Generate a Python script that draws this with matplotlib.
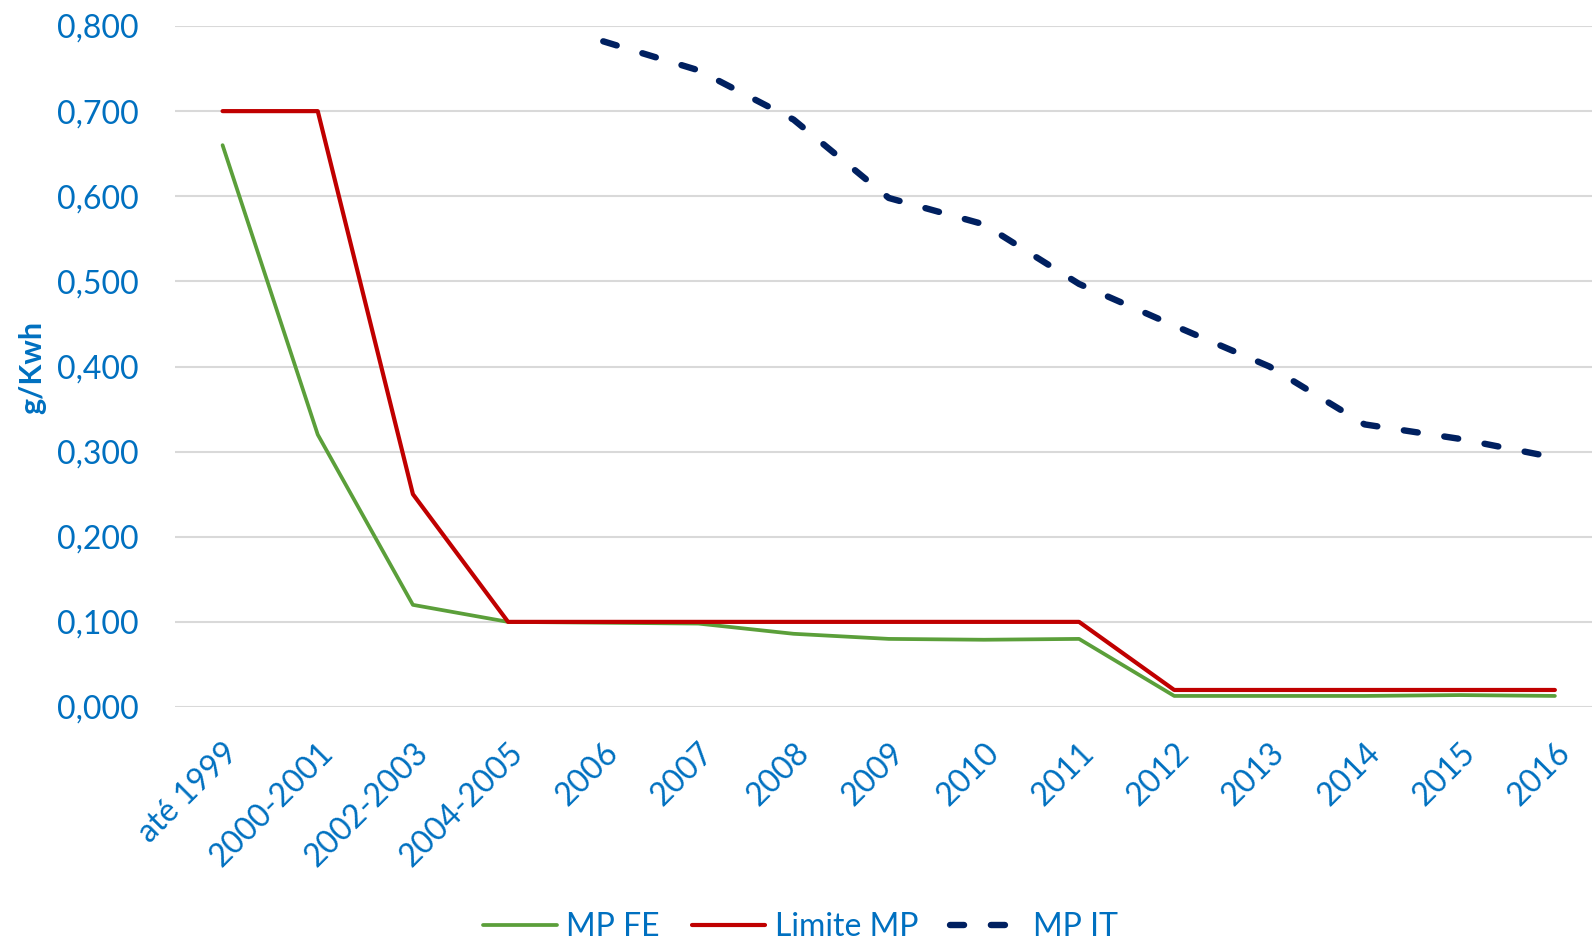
import numpy as np
import matplotlib
matplotlib.use("Agg")
import matplotlib.pyplot as plt

plt.rcParams['font.family'] = ['Lato', 'DejaVu Sans']

categorias = ["até 1999", "2000-2001", "2002-2003", "2004-2005", "2006", "2007", "2008",
              "2009", "2010", "2011", "2012", "2013", "2014", "2015", "2016"]
mp_fe = [0.660, 0.320, 0.120, 0.100, 0.099, 0.098, 0.086, 0.080, 0.079, 0.080,
         0.013, 0.013, 0.013, 0.014, 0.013]
limite_mp = [0.700, 0.700, 0.250, 0.100, 0.100, 0.100, 0.100, 0.100, 0.100, 0.100,
             0.020, 0.020, 0.020, 0.020, 0.020]
mp_it = [np.nan, np.nan, np.nan, np.nan, 0.782, 0.748, 0.690, 0.598, 0.567, 0.497,
         0.448, 0.400, 0.332, 0.315, 0.293]
y_ticks = [0.0, 0.1, 0.2, 0.3, 0.4, 0.5, 0.6, 0.7, 0.8]

azul = "#0070C0"
x = np.arange(len(categorias))

fig = plt.figure(figsize=(15.92, 9.41), dpi=100)
ax = fig.add_axes([175/1592, 1 - 707/941, 1 - 175/1592, (707-26)/941])

ax.plot(x, mp_fe, color="#5B9F3A", lw=2.7, label="MP FE", solid_capstyle="round")
ax.plot(x, limite_mp, color="#C00000", lw=3.0, label="Limite MP", solid_capstyle="round")
ax.plot(x, mp_it, color="#002060", lw=4.6, label="MP IT", dashes=(2.2, 4.2),
        dash_capstyle="round")

ax.set_ylim(0, 0.8)
ax.set_xlim(-0.5, 14.39)
ax.set_yticks(y_ticks)
ax.set_yticklabels([f"{v:.3f}".replace(".", ",") for v in y_ticks], color=azul, fontsize=23)
ax.set_xticks(x)
ax.set_xticklabels(categorias, rotation=45, ha="right", va="top", rotation_mode="anchor",
                   color=azul, fontsize=23)
ax.tick_params(axis="y", length=0, pad=26)
ax.tick_params(axis="x", length=0, pad=22)
ax.grid(axis="y", color="#D9D9D9", lw=1.5)
ax.set_axisbelow(True)
for s in ax.spines.values():
    s.set_visible(False)

fig.text(32/1592, 1 - 367/941, "g/Kwh", rotation=90, ha="center", va="center",
         color=azul, fontsize=22, fontweight="bold")

leg = fig.legend(loc="lower center", ncol=3, bbox_to_anchor=(0.503, -0.032), frameon=False,
                 fontsize=23, handlelength=2.3, columnspacing=1.0, handletextpad=0.3)
for t in leg.get_texts():
    t.set_color(azul)

fig.savefig("out.png", dpi=100)
